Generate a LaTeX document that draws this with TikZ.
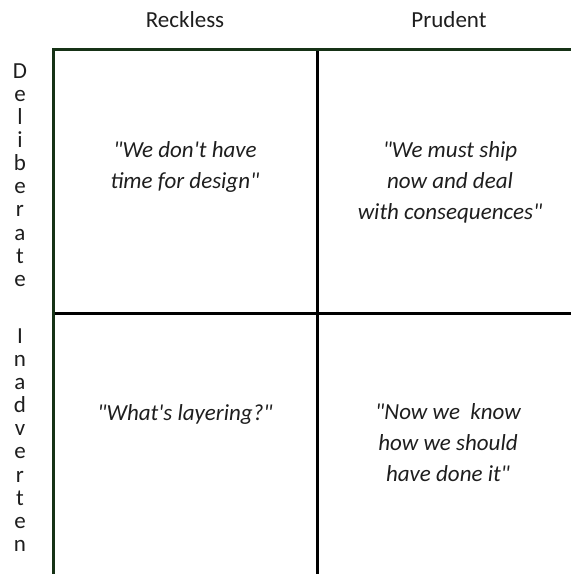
\documentclass[tikz,border=0pt]{standalone}
\usepackage{fontspec}
\newfontfamily\carlito{Carlito}
\usetikzlibrary{positioning}
\definecolor{frame green}{RGB}{22,50,22}
\definecolor{ink}{RGB}{30,30,30}
\tikzset{
    every node/.style={font=\carlito\fontsize{23}{31}\selectfont, text=ink, inner sep=0pt},
    quote node/.style={align=center,font=\carlito\fontsize{23}{31}\selectfont\itshape},
    side node/.style={align=center,font=\carlito\fontsize{23}{23.1}\selectfont}
}

\begin{document}
\begin{tikzpicture}[
            x = 1pt, y = -1pt, % one unit is one pixel, y runs down
            line width = 3pt, % grid lines
            line cap = rect
        ]

        \useasboundingbox (0,0) rectangle (571,574);

        % grid corners
        \coordinate (tl) at (53,49);
        \coordinate (tr) at (571,49);
        \coordinate (bl) at (53,574);
        \coordinate (tm) at (317,49);
        \coordinate (bm) at (317,574);
        \coordinate (ml) at (53,313);
        \coordinate (mr) at (571,313);

        \draw[black, line cap = butt] (tm) -- (bm);
        \draw[black, line cap = butt] (ml) -- (mr);
        \draw[frame green] (bl) -- (tl) -- (tr);

        % column heads
        \node[anchor=base] (reckless) at (185,27) {Reckless};
        \node[anchor=base] (prudent) at (449,27) {Prudent};

        % row heads
        \node[side node] (deliberate) at (20,175) {D\\e\\l\\i\\b\\e\\r\\a\\t\\e};
        \node[side node] (inadvertent) at (20,440) {I\\n\\a\\d\\v\\e\\r\\t\\e\\n};

        % quadrants
        \node[quote node] (nodesign) at (185,167) {"We don't have\\time for design"};
        \node[quote node] (mustship) at (450,182) {"We must ship\\now and deal\\with consequences"};
        \node[quote node] (layering) at (185,414) {"What's layering?"};
        \node[quote node] (nowknow) at (448,443) {"Now we~ know\\how we should\\have done it"};

  \end{tikzpicture}
\end{document}
